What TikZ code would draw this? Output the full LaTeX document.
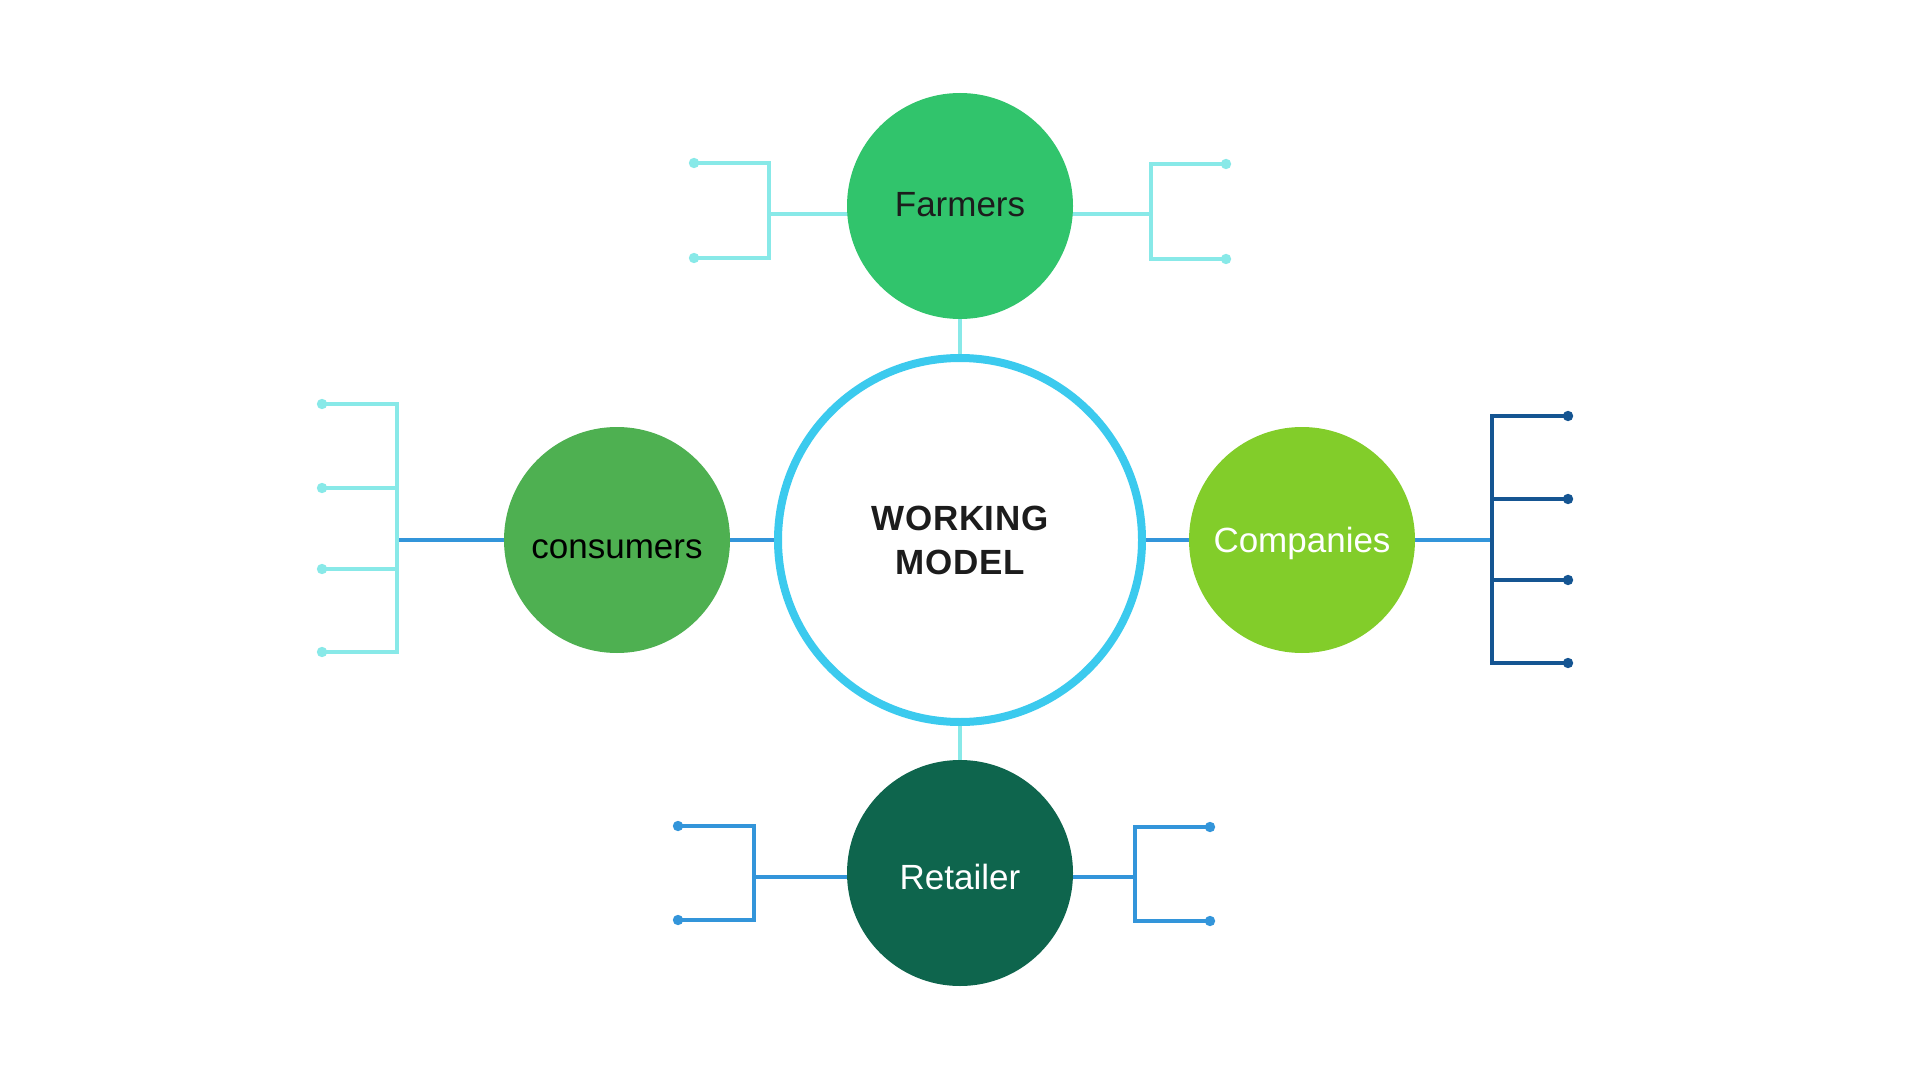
\documentclass[tikz,border=0pt]{standalone}
\usepackage{fontspec}
\setmainfont{Liberation Sans}
\newfontfamily\wmfont[LetterSpace=2]{Liberation Sans}
\usetikzlibrary{backgrounds}
\definecolor{farmgreen}{HTML}{31C46C}
\definecolor{consgreen}{HTML}{4EB051}
\definecolor{compgreen}{HTML}{82CD2A}
\definecolor{retgreen}{HTML}{0E654D}
\definecolor{ringblue}{HTML}{3BCAEE}
\definecolor{lcyan}{HTML}{88E9E8}
\definecolor{midblue}{HTML}{3395DA}
\definecolor{darkblue}{HTML}{155592}
\definecolor{textdark}{HTML}{1C1C1C}
\begin{document}
\begin{tikzpicture}[x=0.5pt,y=-0.5pt,
  hub/.style={circle, minimum size=113pt, inner sep=0pt, outer sep=0pt},
  lab/.style={font=\fontsize{17.5pt}{21pt}\selectfont, anchor=base, inner sep=0pt},
  mainline/.style={line width=2pt},
  brline/.style={line width=1.6pt},
  dotr/.style={radius=2.6pt}
]
% circles
\node[circle, minimum size=182pt, inner sep=0pt, draw=ringblue, line width=4pt, fill=white,
      align=center, font=\wmfont\bfseries\fontsize{17.5pt}{22pt}\selectfont, text=textdark]
      (center) at (960,540) {WORKING\\MODEL};
\node[hub, fill=farmgreen] (farmers) at (960,206) {};
\node[hub, fill=consgreen] (consumers) at (617,540) {};
\node[hub, fill=compgreen] (companies) at (1302,540) {};
\node[hub, fill=retgreen] (retailer) at (960,873) {};

\node[lab, text=textdark] (farmersT) at (960,217) {Farmers};
\node[lab, text=black] (consumersT) at (617,558) {consumers};
\node[lab, text=white] (companiesT) at (1302,552) {Companies};
\node[lab, text=white] (retailerT) at (960,889) {Retailer};

% hub to center connectors
\draw[mainline, lcyan] (farmers) -- (center);
\draw[mainline, lcyan] (center) -- (retailer);
\draw[mainline, midblue] (consumers) -- (center);
\draw[mainline, midblue] (center) -- (companies);

% junction coordinates
\coordinate (fLv) at (769,214);
\coordinate (fLt) at (694,163);
\coordinate (fLb) at (694,258);
\coordinate (fRv) at (1151,214);
\coordinate (fRt) at (1226,164);
\coordinate (fRb) at (1226,259);

\coordinate (cLv) at (397,540);
\coordinate (c1) at (322,404);
\coordinate (c2) at (322,488);
\coordinate (c3) at (322,569);
\coordinate (c4) at (322,652);

\coordinate (kRv) at (1492,540);
\coordinate (k1) at (1568,416);
\coordinate (k2) at (1568,499);
\coordinate (k3) at (1568,580);
\coordinate (k4) at (1568,663);

\coordinate (rLv) at (754,877);
\coordinate (rLt) at (678,826);
\coordinate (rLb) at (678,920);
\coordinate (rRv) at (1135,877);
\coordinate (rRt) at (1210,827);
\coordinate (rRb) at (1210,921);

\begin{scope}[on background layer]
\fill[white] (0,0) rectangle (1920,1080);
\draw[mainline, lcyan] (fLv) -- (farmers.center |- fLv);
\draw[mainline, lcyan] (fRv) -- (farmers.center |- fRv);
\draw[mainline, midblue] (rLv) -- (retailer.center |- rLv);
\draw[mainline, midblue] (rRv) -- (retailer.center |- rRv);
\draw[mainline, midblue] (cLv) -- (consumers.center);
\draw[mainline, midblue] (kRv) -- (companies.center);
\end{scope}

% Farmers brackets
\draw[brline, lcyan] (fLt) -| (fLv) |- (fLb);
\draw[brline, lcyan] (fRt) -| (fRv) |- (fRb);
\fill[lcyan] (fLt) circle[dotr] (fLb) circle[dotr] (fRt) circle[dotr] (fRb) circle[dotr];

% Consumers bracket
\draw[brline, lcyan] (c1) -| (cLv) |- (c4);
\draw[brline, lcyan] (c2) -- (c2 -| cLv);
\draw[brline, lcyan] (c3) -- (c3 -| cLv);
\fill[lcyan] (c1) circle[dotr] (c2) circle[dotr] (c3) circle[dotr] (c4) circle[dotr];

% Companies bracket
\draw[brline, darkblue] (k1) -| (kRv) |- (k4);
\draw[brline, darkblue] (k2) -- (k2 -| kRv);
\draw[brline, darkblue] (k3) -- (k3 -| kRv);
\fill[darkblue] (k1) circle[dotr] (k2) circle[dotr] (k3) circle[dotr] (k4) circle[dotr];

% Retailer brackets
\draw[brline, midblue] (rLt) -| (rLv) |- (rLb);
\draw[brline, midblue] (rRt) -| (rRv) |- (rRb);
\fill[midblue] (rLt) circle[dotr] (rLb) circle[dotr] (rRt) circle[dotr] (rRb) circle[dotr];
\end{tikzpicture}
\end{document}
